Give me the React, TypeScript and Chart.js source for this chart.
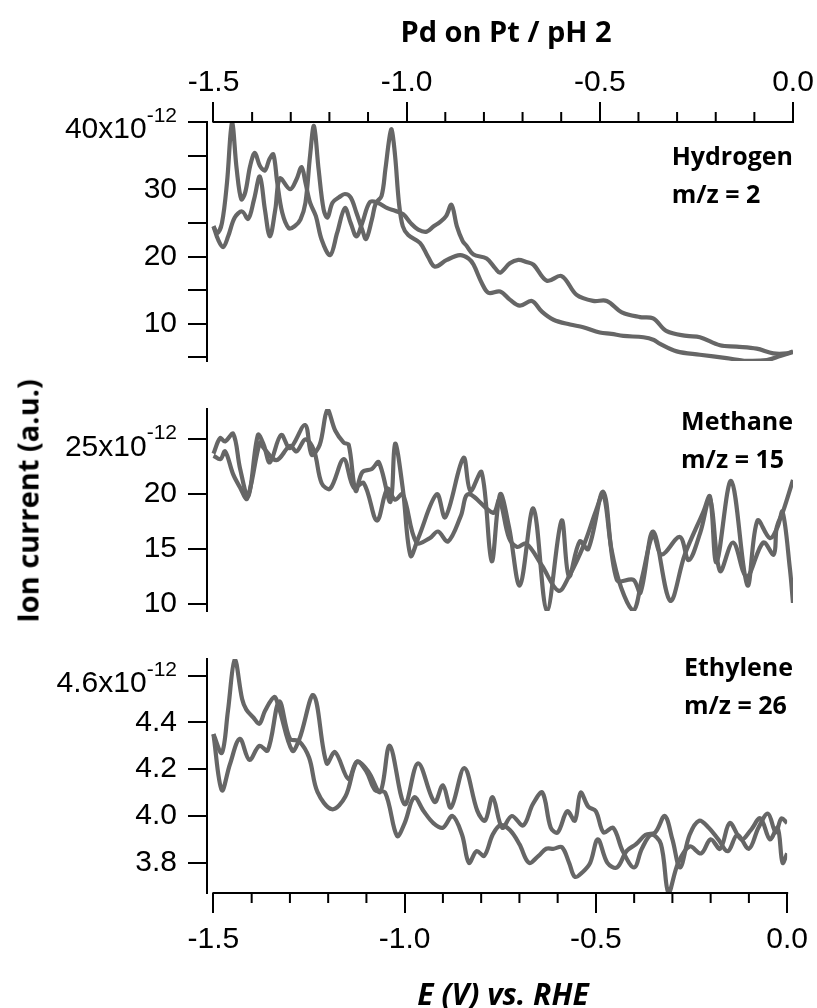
import React, { useEffect, useRef } from 'react';
import { Chart, registerables } from 'chart.js';

Chart.register(...registerables);

// ---------- axis values ----------
const xMajorTicks = [-1.5, -1.0, -0.5, 0.0];
const xMinorTicks = [-1.4, -1.3, -1.2, -1.1, -0.9, -0.8, -0.7, -0.6, -0.4, -0.3, -0.2, -0.1];
const h2Ticks = [5, 10, 15, 20, 25, 30, 35, 40];
const ch4Ticks = [10, 15, 20, 25];
const c2h4Ticks = [3.8, 4.0, 4.2, 4.4, 4.6];

// ---------- data: [E (V vs RHE), ion current (x1e-12)] ----------
const h2ScanA: [number, number][] = [
  [-1.5, 24.5], [-1.49, 23.5], [-1.478, 25.0], [-1.465, 31], [-1.452, 39.9], [-1.44, 33], [-1.428, 28.5],
  [-1.418, 29.5], [-1.405, 33.5], [-1.393, 35.4], [-1.38, 33.5], [-1.367, 32.8], [-1.355, 34.5], [-1.345, 35.2],
  [-1.335, 31], [-1.322, 26.5], [-1.305, 24.2], [-1.29, 24.5], [-1.275, 25.5], [-1.262, 28], [-1.25, 35],
  [-1.24, 39.4], [-1.228, 33], [-1.215, 27], [-1.205, 25.8], [-1.192, 28.0], [-1.175, 28.8], [-1.16, 29.3],
  [-1.145, 28.8], [-1.13, 26.5], [-1.115, 24.0], [-1.105, 22.6], [-1.09, 25.5], [-1.08, 27.9], [-1.065, 29],
  [-1.055, 33], [-1.045, 37.5], [-1.039, 38.9], [-1.03, 35], [-1.02, 28], [-1.01, 24.5], [-0.996, 23.2],
  [-0.965, 22.0], [-0.945, 20], [-0.927, 18.5], [-0.896, 19.5], [-0.862, 20.2], [-0.84, 19.7], [-0.827, 18.8],
  [-0.805, 16], [-0.788, 14.6], [-0.758, 14.8], [-0.733, 13.6], [-0.707, 12.7], [-0.676, 13.4], [-0.65, 11.8],
  [-0.62, 10.6], [-0.577, 9.9], [-0.543, 9.5], [-0.5, 8.7], [-0.47, 8.5], [-0.439, 8.2], [-0.387, 8.0],
  [-0.36, 7.6], [-0.344, 7.0], [-0.301, 5.9], [-0.241, 5.4], [-0.172, 4.9], [-0.12, 4.5], [-0.068, 4.6],
  [-0.033, 5.2], [0, 5.8],
];
const h2ScanB: [number, number][] = [
  [-1.5, 24.5], [-1.488, 22.5], [-1.475, 21.4], [-1.462, 23], [-1.445, 25.8], [-1.426, 26.7], [-1.41, 25.6],
  [-1.395, 28.5], [-1.38, 31.9], [-1.367, 27], [-1.354, 23.0], [-1.34, 27], [-1.328, 31.6], [-1.302, 30.0],
  [-1.285, 31.5], [-1.272, 33.3], [-1.262, 31], [-1.25, 28], [-1.235, 26], [-1.22, 22.5], [-1.198, 20.2],
  [-1.18, 23.5], [-1.16, 27.2], [-1.145, 25], [-1.13, 23.0], [-1.115, 25], [-1.095, 28.1], [-1.075, 28.0],
  [-1.05, 27.2], [-1.03, 26.8], [-1.009, 26.3], [-0.99, 25.0], [-0.97, 24.0], [-0.948, 23.7], [-0.93, 24.5],
  [-0.914, 25.1], [-0.898, 26], [-0.884, 27.7], [-0.87, 24.5], [-0.855, 22.3], [-0.845, 21.6], [-0.827, 20.3],
  [-0.793, 19.7], [-0.77, 18.2], [-0.758, 17.6], [-0.733, 19.0], [-0.711, 19.5], [-0.69, 19.2], [-0.672, 18.8],
  [-0.637, 16.4], [-0.599, 17.1], [-0.56, 14.3], [-0.517, 13.4], [-0.482, 13.4], [-0.443, 11.7], [-0.396, 11.0],
  [-0.362, 10.8], [-0.327, 8.9], [-0.275, 8.2], [-0.241, 8.0], [-0.189, 6.8], [-0.146, 6.6], [-0.094, 6.3],
  [-0.051, 5.6], [-0.016, 5.6], [0, 5.9],
];

const ch4ScanA: [number, number][] = [
  [-1.5, 23.7], [-1.483, 25.1], [-1.47, 24.8], [-1.449, 25.5], [-1.431, 22.3], [-1.41, 19.8], [-1.385, 25.4],
  [-1.37, 24.5], [-1.354, 22.9], [-1.325, 25.4], [-1.302, 24.2], [-1.263, 26.3], [-1.246, 23.6], [-1.225, 24.5],
  [-1.205, 27.7], [-1.185, 25.8], [-1.163, 24.7], [-1.15, 24.5], [-1.132, 20.3], [-1.115, 22.0], [-1.09, 22.3],
  [-1.072, 22.9], [-1.042, 19.3], [-1.03, 24.6], [-1.01, 20.5], [-0.99, 14.4], [-0.97, 16.0], [-0.922, 20.0],
  [-0.9, 17.9], [-0.853, 23.3], [-0.835, 20.3], [-0.806, 22.0], [-0.78, 13.9], [-0.758, 20.0], [-0.735, 17],
  [-0.707, 11.7], [-0.672, 18.7], [-0.637, 9.4], [-0.599, 17.6], [-0.58, 12.5], [-0.552, 15.7], [-0.53, 15.0],
  [-0.491, 20.2], [-0.456, 12.2], [-0.413, 12.2], [-0.395, 11.0], [-0.362, 16.6], [-0.318, 10.3], [-0.28, 14.5],
  [-0.232, 18.4], [-0.215, 19.8], [-0.198, 13.8], [-0.16, 21.2], [-0.118, 11.7], [-0.092, 17.6], [-0.06, 16.0],
  [-0.04, 17.0], [-0.027, 18.4], [-0.008, 13.2], [0, 10.1],
];
const ch4ScanB: [number, number][] = [
  [-1.5, 23.5], [-1.482, 23.2], [-1.47, 23.9], [-1.449, 21.8], [-1.431, 20.6], [-1.413, 19.6], [-1.38, 24.7],
  [-1.37, 24.2], [-1.337, 23.1], [-1.302, 24.4], [-1.285, 23.9], [-1.262, 25.0], [-1.24, 24.0], [-1.22, 21.0],
  [-1.198, 20.5], [-1.163, 23.2], [-1.137, 20.6], [-1.111, 21.0], [-1.077, 17.6], [-1.05, 20.5], [-1.03, 19.5],
  [-1.01, 20.0], [-0.975, 15.6], [-0.94, 16.0], [-0.919, 16.6], [-0.893, 15.7], [-0.86, 18.0], [-0.84, 20.0],
  [-0.776, 18.3], [-0.76, 19.5], [-0.735, 16.0], [-0.714, 15.2], [-0.69, 15.5], [-0.65, 13.5], [-0.607, 11.2],
  [-0.58, 12.5], [-0.54, 15.5], [-0.51, 18.5], [-0.491, 20.0], [-0.47, 15.0], [-0.445, 11.5], [-0.413, 9.4],
  [-0.39, 12.5], [-0.362, 16.3], [-0.34, 14.5], [-0.293, 16.1], [-0.27, 14.0], [-0.24, 16.5], [-0.215, 19.6],
  [-0.189, 13.0], [-0.155, 15.6], [-0.12, 12.5], [-0.077, 15.6], [-0.05, 14.5], [-0.042, 17.0], [-0.025, 18.5],
  [0, 21.3],
];

const c2h4ScanA: [number, number][] = [
  [-1.5, 4.35], [-1.478, 4.27], [-1.462, 4.45], [-1.444, 4.67], [-1.425, 4.5], [-1.414, 4.455], [-1.395, 4.42],
  [-1.38, 4.394], [-1.365, 4.45], [-1.341, 4.509], [-1.33, 4.47], [-1.294, 4.279], [-1.275, 4.33], [-1.238, 4.516],
  [-1.204, 4.225], [-1.182, 4.273], [-1.147, 4.158], [-1.125, 4.232], [-1.095, 4.19], [-1.064, 4.103],
  [-1.039, 4.3], [-1.0, 4.05], [-0.965, 4.225], [-0.922, 4.06], [-0.9, 4.131], [-0.879, 4.036], [-0.844, 4.205],
  [-0.81, 4.022], [-0.79, 3.98], [-0.77, 4.08], [-0.745, 3.95], [-0.72, 4.0], [-0.69, 3.96], [-0.665, 4.05],
  [-0.64, 4.1], [-0.618, 3.95], [-0.6, 3.93], [-0.575, 4.02], [-0.555, 3.98], [-0.54, 4.1], [-0.52, 4.04],
  [-0.5, 4.02], [-0.48, 3.93], [-0.455, 3.95], [-0.43, 3.85], [-0.4, 3.78], [-0.38, 3.86], [-0.355, 3.92],
  [-0.33, 3.88], [-0.31, 3.67], [-0.285, 3.8], [-0.255, 3.87], [-0.225, 3.84], [-0.2, 3.9], [-0.175, 3.86],
  [-0.15, 3.97], [-0.12, 3.9], [-0.095, 3.94], [-0.07, 3.99], [-0.045, 3.9], [-0.025, 3.95], [-0.012, 3.8],
  [0, 3.84],
];
const c2h4ScanB: [number, number][] = [
  [-1.5, 4.35], [-1.478, 4.11], [-1.457, 4.22], [-1.431, 4.33], [-1.406, 4.24], [-1.38, 4.3], [-1.358, 4.28],
  [-1.328, 4.489], [-1.3, 4.33], [-1.276, 4.32], [-1.25, 4.25], [-1.228, 4.103], [-1.19, 4.029], [-1.155, 4.083],
  [-1.125, 4.232], [-1.1, 4.19], [-1.077, 4.11], [-1.051, 4.1], [-1.02, 3.915], [-1.0, 3.97], [-0.975, 4.08],
  [-0.95, 4.02], [-0.925, 3.97], [-0.9, 3.95], [-0.875, 4.0], [-0.85, 3.92], [-0.832, 3.8], [-0.812, 3.85],
  [-0.792, 3.83], [-0.77, 3.92], [-0.75, 3.96], [-0.725, 3.94], [-0.7, 3.88], [-0.675, 3.8], [-0.65, 3.83],
  [-0.63, 3.86], [-0.61, 3.86], [-0.589, 3.867], [-0.57, 3.8], [-0.555, 3.74], [-0.535, 3.76], [-0.515, 3.8],
  [-0.495, 3.9], [-0.47, 3.8], [-0.445, 3.78], [-0.42, 3.85], [-0.395, 3.88], [-0.37, 3.92], [-0.345, 3.93],
  [-0.32, 4.0], [-0.3, 3.9], [-0.28, 3.78], [-0.255, 3.92], [-0.23, 3.98], [-0.205, 3.95], [-0.18, 3.9],
  [-0.155, 3.85], [-0.13, 3.92], [-0.1, 3.86], [-0.075, 3.95], [-0.05, 4.01], [-0.03, 3.93], [-0.015, 3.99],
  [0, 3.97],
];

// ---------- layout constants ----------
const W = 817;
const X_MIN = -1.5168;
const LINE_COLOR = '#666666';
const TICK_FONT = '"Liberation Sans", Arial, Helvetica, sans-serif';
const TICK_SIZE = 30;
const Y_TICK_LEN = 19;
const Y_TICK_PAD = 11;

type Panel = {
  top: number;
  height: number;
  padTop: number;
  padBottom: number;
  xPos: 'top' | 'bottom' | null;
  xAxisH: number;
  yMin: number;
  yMax: number;
  yTicks: number[];
  yLabel: (v: number) => string;
  expValue: number;
  expMain: string;
  series: [number, number][][];
};

const panels: Panel[] = [
  {
    top: 0, height: 390, padTop: 0, padBottom: 15, xPos: 'top', xAxisH: 122,
    yMin: 4.47, yMax: 40, yTicks: h2Ticks,
    yLabel: (v) => (v % 10 === 0 && v !== 40 ? String(v) : ''),
    expValue: 40, expMain: '40x10', series: [h2ScanA, h2ScanB],
  },
  {
    top: 380, height: 260, padTop: 13, padBottom: 10, xPos: null, xAxisH: 0,
    yMin: 9.36, yMax: 27.76, yTicks: ch4Ticks,
    yLabel: (v) => (v !== 25 ? String(v) : ''),
    expValue: 25, expMain: '25x10', series: [ch4ScanA, ch4ScanB],
  },
  {
    top: 630, height: 378, padTop: 17, padBottom: 0, xPos: 'bottom', xAxisH: 115,
    yMin: 3.671, yMax: 4.671, yTicks: c2h4Ticks,
    yLabel: (v) => (Math.abs(v - 4.6) > 1e-6 ? v.toFixed(1) : ''),
    expValue: 4.6, expMain: '4.6x10', series: [c2h4ScanA, c2h4ScanB],
  },
];

const axisDecor = {
  id: 'axisDecor',
  afterDraw(chart: any, _args: any, opts: any) {
    const { ctx, chartArea } = chart;
    const xs = chart.scales.x;
    const ys = chart.scales.y;
    ctx.save();
    ctx.strokeStyle = '#000';
    ctx.lineWidth = 2;
    if (opts.xSide) {
      const y = opts.xSide === 'top' ? chartArea.top : chartArea.bottom;
      const dir = opts.xSide === 'top' ? -1 : 1;
      const x0 = xs.getPixelForValue(-1.5);
      const x1 = xs.getPixelForValue(0);
      ctx.beginPath();
      ctx.moveTo(x0 - 1, y);
      ctx.lineTo(x1 + 1, y);
      for (const v of xMinorTicks) {
        const px = xs.getPixelForValue(v);
        ctx.moveTo(px, y);
        ctx.lineTo(px, y + dir * 10);
      }
      ctx.stroke();
    }
    // exponent label on the top tick of the y axis
    const py = ys.getPixelForValue(opts.expValue);
    const xr = chartArea.left - Y_TICK_LEN - Y_TICK_PAD;
    ctx.fillStyle = '#000';
    ctx.textAlign = 'right';
    ctx.textBaseline = 'alphabetic';
    ctx.font = `21px ${TICK_FONT}`;
    const ew = ctx.measureText('-12').width;
    ctx.fillText('-12', xr, py);
    ctx.font = `${TICK_SIZE}px ${TICK_FONT}`;
    ctx.textBaseline = 'middle';
    ctx.fillText(opts.expMain, xr - ew, py + 8);
    ctx.restore();
  },
};

function makeConfig(p: Panel): any {
  return {
    type: 'line',
    data: {
      datasets: p.series.map((s) => ({
        data: s.map(([x, y]) => ({ x, y })),
        borderColor: LINE_COLOR,
        borderWidth: 4.2,
        pointRadius: 0,
        tension: 0.35,
        fill: false,
      })),
    },
    options: {
      animation: false,
      responsive: false,
      maintainAspectRatio: false,
      events: [],
      layout: { padding: { left: 0, right: W - 793, top: p.padTop, bottom: p.padBottom } },
      plugins: {
        legend: { display: false },
        tooltip: { enabled: false },
        title: { display: false },
        axisDecor: { xSide: p.xPos, expValue: p.expValue, expMain: p.expMain },
      },
      scales: {
        x: {
          type: 'linear',
          position: p.xPos || 'bottom',
          display: p.xPos !== null,
          min: X_MIN,
          max: 0,
          afterBuildTicks: (s: any) => {
            s.ticks = xMajorTicks.map((v) => ({ value: v }));
          },
          afterFit: (s: any) => {
            s.height = p.xAxisH;
          },
          grid: { drawOnChartArea: false, drawTicks: true, tickLength: 20, color: '#000', lineWidth: 2 },
          border: { display: false },
          ticks: {
            color: '#000',
            font: { family: TICK_FONT, size: TICK_SIZE },
            padding: p.xPos === 'top' ? 1 : 9,
            autoSkip: false,
            maxRotation: 0,
            callback: (v: number) => v.toFixed(1),
          },
        },
        y: {
          type: 'linear',
          position: 'left',
          min: p.yMin,
          max: p.yMax,
          afterBuildTicks: (s: any) => {
            s.ticks = p.yTicks.map((v) => ({ value: v }));
          },
          afterFit: (s: any) => {
            s.width = 207;
          },
          grid: { drawOnChartArea: false, drawTicks: true, tickLength: Y_TICK_LEN, color: '#000', lineWidth: 2 },
          border: { display: true, color: '#000', width: 2 },
          ticks: {
            color: '#000',
            font: { family: TICK_FONT, size: TICK_SIZE },
            padding: Y_TICK_PAD,
            autoSkip: false,
            callback: (v: number) => p.yLabel(v),
          },
        },
      },
    },
    plugins: [axisDecor],
  };
}

const boldFont = '"Open Sans", "Noto Sans", sans-serif';

const labelStyle: React.CSSProperties = {
  position: 'absolute',
  fontFamily: boldFont,
  fontWeight: 700,
  color: '#000',
  whiteSpace: 'nowrap',
};

const annotations = [
  { top: 136, lines: ['Hydrogen', 'm/z = 2'] },
  { top: 401, lines: ['Methane', 'm/z = 15'] },
  { top: 647, lines: ['Ethylene', 'm/z = 26'] },
];

export default function App() {
  const refs = useRef<(HTMLCanvasElement | null)[]>([]);

  useEffect(() => {
    const charts = panels.map((p, i) => new Chart(refs.current[i] as HTMLCanvasElement, makeConfig(p)));
    return () => charts.forEach((c) => c.destroy());
  }, []);

  return (
    <div style={{ position: 'absolute', left: 0, top: 0, width: W, height: 1008, background: '#fff', overflow: 'hidden' }}>
      {panels.map((p, i) => (
        <canvas
          key={i}
          ref={(el) => {
            refs.current[i] = el;
          }}
          width={W}
          height={p.height}
          style={{ position: 'absolute', left: 0, top: p.top, width: W, height: p.height }}
        />
      ))}
      <div style={{ ...labelStyle, left: 506, top: 30, fontSize: 29, lineHeight: 1, transform: 'translate(-50%, -50%)' }}>
        Pd on Pt / pH 2
      </div>
      <div style={{ ...labelStyle, left: 503, top: 994, fontSize: 30, lineHeight: 1, fontStyle: 'italic', transform: 'translate(-50%, -50%)' }}>
        E (V) vs. RHE
      </div>
      <div
        style={{
          ...labelStyle,
          left: 27,
          top: 501,
          fontSize: 29,
          lineHeight: 1,
          transform: 'translate(-50%, -50%) rotate(-90deg)',
        }}
      >
        Ion current (a.u.)
      </div>
      {annotations.map((a, i) => (
        <div key={i} style={{ ...labelStyle, right: W - 793, top: a.top, fontSize: 25, lineHeight: '38px', textAlign: 'left' }}>
          {a.lines.map((l, j) => (
            <div key={j}>{l}</div>
          ))}
        </div>
      ))}
    </div>
  );
}
